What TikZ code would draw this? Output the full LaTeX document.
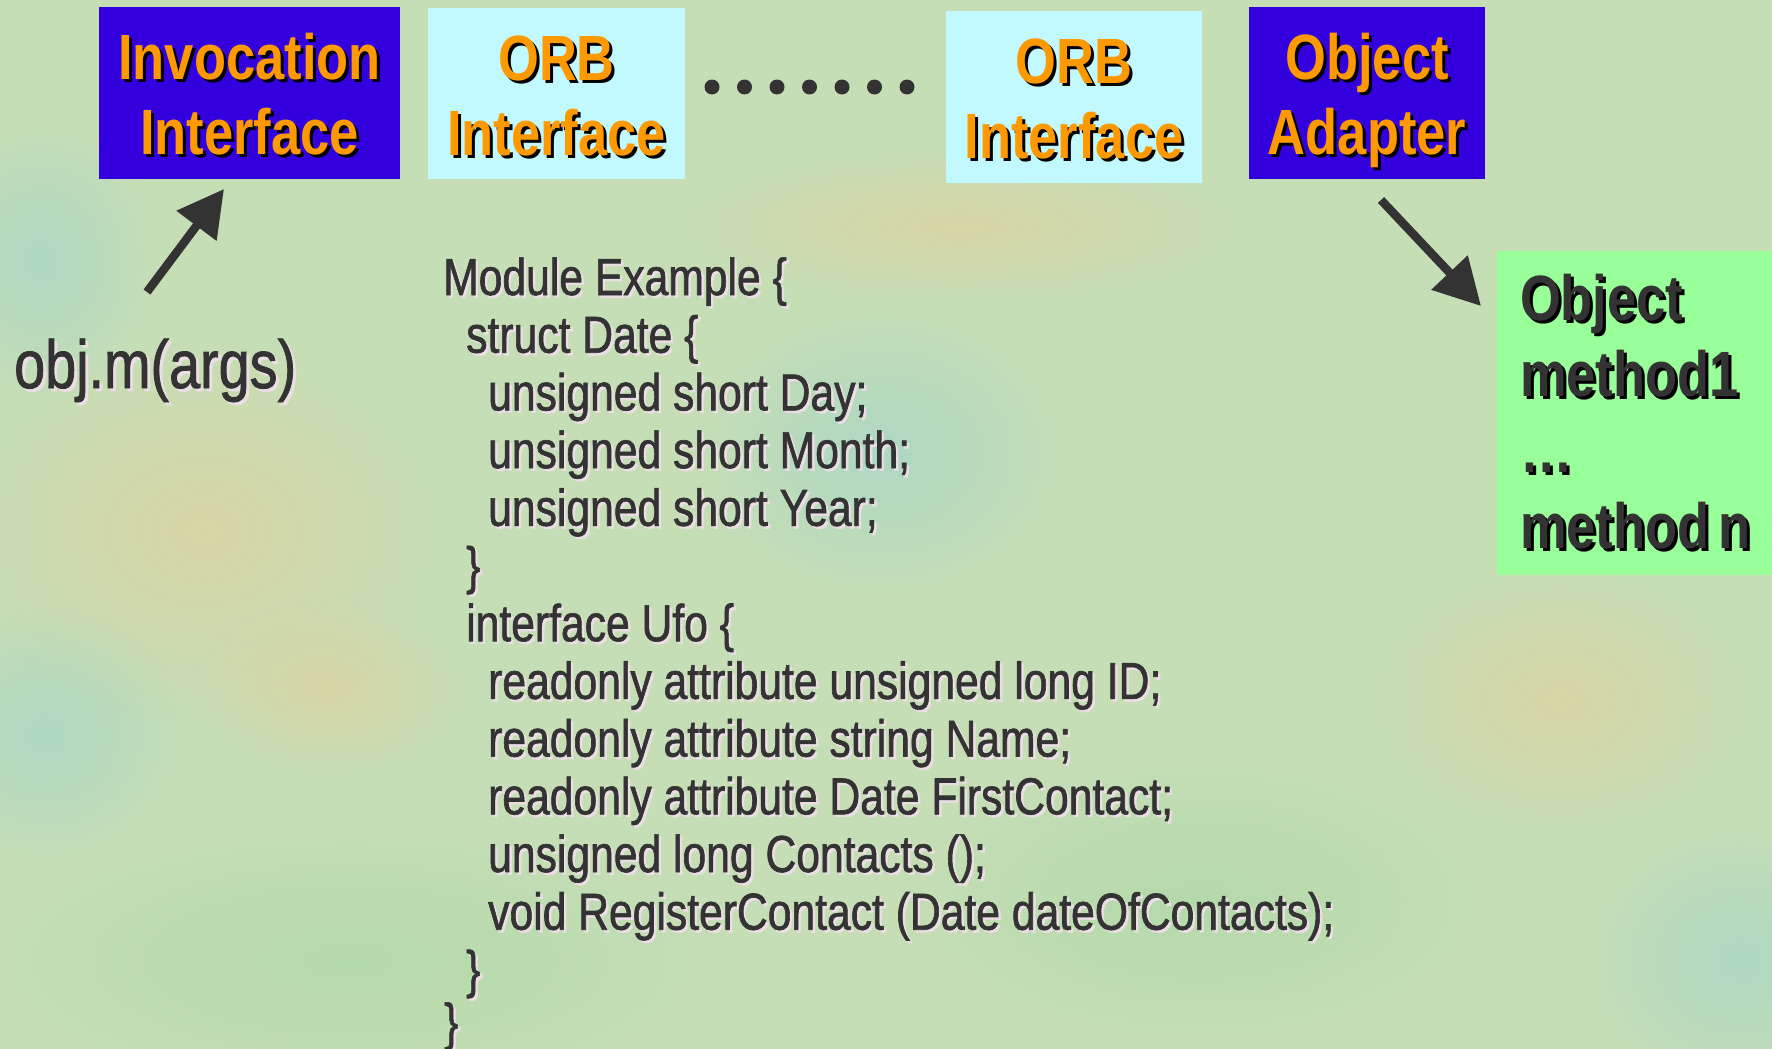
\documentclass[tikz,border=0pt]{standalone}
\usepackage{fontspec}
\setmainfont{Liberation Sans}[FakeStretch=0.82]
\newfontfamily\idlfont{Liberation Sans}[FakeStretch=0.82, FakeBold=1.2]
\usetikzlibrary{arrows.meta,fadings}

\definecolor{paper}{HTML}{C6DEB6}
\definecolor{sand}{HTML}{DDD3A0}
\definecolor{teal}{HTML}{A6D6C6}
\definecolor{leaf}{HTML}{AED8A6}
\definecolor{ink}{HTML}{333333}
\definecolor{glow}{HTML}{EBDDE4}
\definecolor{royal}{HTML}{3300DD}
\definecolor{ice}{HTML}{C2F8FF}
\definecolor{mint}{HTML}{99FF99}
\definecolor{amber}{HTML}{FF9900}

\tikzfading[name=softblob, inner color=transparent!0, outer color=transparent!100]

% text with a drop shadow: #1 shadow colour, #2 offset, #3 text
\newcommand\shtext[3]{\makebox[0pt][l]{\hspace*{#2}\raisebox{-#2}{\textcolor{#1}{#3}}}#3}

\begin{document}
\begin{tikzpicture}[x=1pt,y=-1pt,
  blob/.style={fill=#1, fill opacity=0.75, path fading=softblob},
  titlebox/.style={inner sep=0pt, align=center, text=amber,
    text height=123pt, text depth=0pt,
    font={\fontsize{64pt}{75pt}\selectfont\bfseries}},
  bluebox/.style={titlebox, fill=royal},
  icebox/.style={titlebox, fill=ice},
  code/.style={anchor=base west, inner sep=0pt, text=ink,
    font={\idlfont\fontsize{52pt}{58pt}\selectfont}},
  pointer/.style={draw=ink, line width=8.5pt,
    -{Triangle[length=46pt,width=48pt]}}]

\useasboundingbox (0,0) rectangle (1772,1049);

% mottled paper background
\fill[paper] (0,0) rectangle (1772,1049);
\fill[blob=sand] (203,531) ellipse [x radius=250, y radius=190];
\fill[blob=sand] (960,226) ellipse [x radius=300, y radius=80];
\fill[blob=sand] (1560,700) ellipse [x radius=200, y radius=140];
\fill[blob=sand] (330,690) ellipse [x radius=140, y radius=90];
\fill[blob=teal] (881,452) ellipse [x radius=190, y radius=150];
\fill[blob=teal] (45,735) ellipse [x radius=140, y radius=130];
\fill[blob=teal] (1740,960) ellipse [x radius=160, y radius=140];
\fill[blob=teal] (40,260) ellipse [x radius=120, y radius=140];
\fill[blob=leaf] (350,960) ellipse [x radius=380, y radius=140];
\fill[blob=leaf] (1200,900) ellipse [x radius=300, y radius=150];

% interface boxes along the top
\node[bluebox, minimum width=301pt, minimum height=172pt] (inv) at (249.5,93)
  {\shtext{black}{3pt}{Invocation}\\\shtext{black}{3pt}{Interface}};
\node[icebox, minimum width=257pt, minimum height=171pt] (orbA) at (556.5,93.5)
  {\shtext{black}{3pt}{ORB}\\\shtext{black}{3pt}{Interface}};
\node[icebox, minimum width=256pt, minimum height=172pt] (orbB) at (1074,97)
  {\shtext{black}{3pt}{ORB}\\\shtext{black}{3pt}{Interface}};
\node[bluebox, minimum width=236pt, minimum height=172pt] (adapter) at (1367,93)
  {\shtext{black}{3pt}{Object}\\\shtext{black}{3pt}{Adapter}};

% ellipsis between the two ORB interfaces
\foreach \i in {0,...,6}
  \fill[ink] (712+\i*32.5,87) circle (7.5);

% object implementation
\node[fill=mint, inner xsep=23pt, inner ysep=0pt, text width=252pt,
  minimum height=324pt, align=left, text=ink,
  font={\fontsize{64pt}{76pt}\selectfont\bfseries}] (obj) at (1646,413)
  {\shtext{black}{3pt}{Object}\\\shtext{black}{3pt}{method1}\\
   \shtext{black}{3pt}{…}\\\shtext{black}{3pt}{method\hspace{9pt}n}};

% client call
\node[anchor=base west, inner sep=0pt, text=ink,
  font={\idlfont\fontsize{68pt}{76pt}\selectfont}] (call) at (14,388)
  {\shtext{glow}{3pt}{obj.m(args)}};

% IDL definition
\node[code] (l1)  at (443,295)   {\shtext{glow}{2.5pt}{Module Example \{}};
\node[code] (l2)  at (466,352.7) {\shtext{glow}{2.5pt}{struct Date \{}};
\node[code] (l3)  at (488,410.4) {\shtext{glow}{2.5pt}{unsigned short Day;}};
\node[code] (l4)  at (488,468.1) {\shtext{glow}{2.5pt}{unsigned short Month;}};
\node[code] (l5)  at (488,525.8) {\shtext{glow}{2.5pt}{unsigned short Year;}};
\node[code] (l6)  at (466,583.5) {\shtext{glow}{2.5pt}{\}}};
\node[code] (l7)  at (466,641.2) {\shtext{glow}{2.5pt}{interface Ufo \{}};
\node[code] (l8)  at (488,698.9) {\shtext{glow}{2.5pt}{readonly attribute unsigned long ID;}};
\node[code] (l9)  at (488,756.6) {\shtext{glow}{2.5pt}{readonly attribute string Name;}};
\node[code] (l10) at (488,814.3) {\shtext{glow}{2.5pt}{readonly attribute Date FirstContact;}};
\node[code] (l11) at (488,872.0) {\shtext{glow}{2.5pt}{unsigned long Contacts ();}};
\node[code] (l12) at (488,929.7) {\shtext{glow}{2.5pt}{void RegisterContact (Date dateOfContacts);}};
\node[code] (l13) at (466,987.4) {\shtext{glow}{2.5pt}{\}}};
\node[code] (l14) at (444,1040) {\shtext{glow}{2.5pt}{\}}};

% arrows
\coordinate (callTip) at (147,292);
\coordinate (invFoot) at (224,189);
\coordinate (adFoot) at (1381,200);
\coordinate (objTip) at (1481,306);
\draw[pointer] (callTip) -- (invFoot);
\draw[pointer] (adFoot) -- (objTip);
\end{tikzpicture}
\end{document}
